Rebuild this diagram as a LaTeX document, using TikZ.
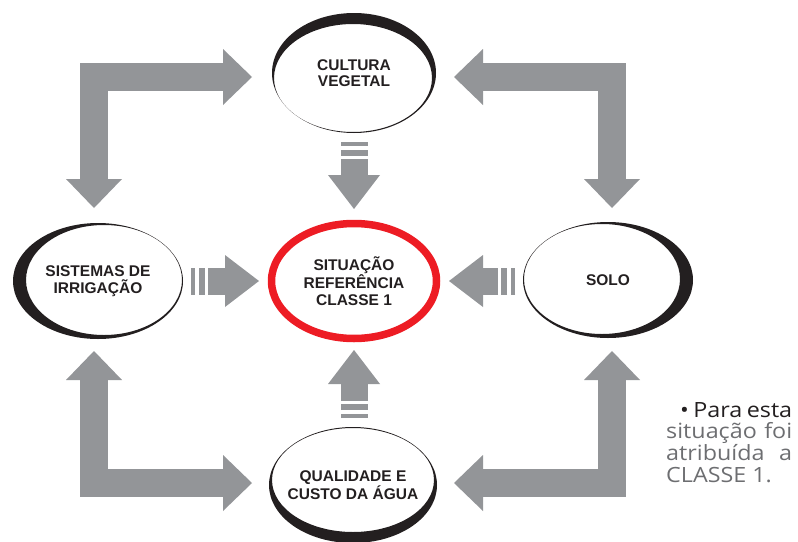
\documentclass[tikz,border=0pt]{standalone}
\usepackage{fontspec}
\usepackage{tikz}
\usetikzlibrary{arrows.meta, calc}
\newfontfamily\rotulofont{Liberation Sans}
\newfontfamily\notafont[FakeStretch=1.11]{Open Sans}
\definecolor{cinzaseta}{RGB}{147,149,152}
\definecolor{cinzatexto}{RGB}{109,110,113}
\definecolor{vermelho}{RGB}{237,28,36}
\definecolor{preto}{RGB}{35,31,32}
\tikzstyle{fator} = [inner sep=0pt, align=center, text=preto, font=\rotulofont\bfseries\fontsize{15.5}{16.5}\selectfont]
\tikzstyle{nota} = [inner sep=0pt, align=left, text=preto, font=\notafont\fontsize{21}{21.8}\selectfont]
\tikzstyle{crescente} = [fill=preto, even odd rule]
\tikzstyle{seta} = [draw=cinzaseta, line width=28pt, {Triangle[length=29pt, width=56pt, line width=0pt]}-{Triangle[length=29pt, width=56pt, line width=0pt]}]
\tikzstyle{faixa} = [draw=cinzaseta, line width=27pt]
\newcommand{\setalistrada}[2]{%
  \draw[faixa] (#1) -- ($(#1)!4pt!(#2)$);
  \draw[faixa] ($(#1)!8pt!(#2)$) -- ($(#1)!14pt!(#2)$);
  \draw[faixa, -{Triangle[length=34pt, width=52pt, line width=0pt]}] ($(#1)!17pt!(#2)$) -- (#2);
}

\begin{document}
\begin{tikzpicture}[x=1pt, y=-1pt]
	\useasboundingbox (0,0) rectangle (798,541);
	\node[fator] (cultura) at (354,73) {CULTURA\\VEGETAL};
	\node[fator] (sistemas) at (98,281) {SISTEMAS DE\\IRRIGAÇÃO};
	\node[fator] (situacao) at (354,281) {SITUAÇÃO\\REFERÊNCIA\\CLASSE 1};
	\node[fator] (solo) at (608,280) {SOLO};
	\node[fator] (qualidade) at (353,485) {QUALIDADE E\\CUSTO DA ÁGUA};
	\node[nota, anchor=north west] (nota) at (666,402) {\hspace*{14pt}\makebox[112pt][s]{• Para esta}\\
		{\color{cinzatexto}\makebox[126pt][s]{situação foi}}\\
		{\color{cinzatexto}\makebox[126pt][s]{atribuída a}}\\
		{\color{cinzatexto}CLASSE 1.}};
	\fill[crescente] (cultura) ellipse [x radius=82, y radius=60] ($(cultura)+(-1,5)$) ellipse [x radius=79, y radius=54];
	\fill[crescente] (sistemas) ellipse [x radius=85, y radius=58] ($(sistemas)+(6,-1)$) ellipse [x radius=78, y radius=55];
	\fill[crescente] (solo) ellipse [x radius=85, y radius=58] ($(solo)+(-6,-1)$) ellipse [x radius=78, y radius=55];
	\fill[crescente] (qualidade) ellipse [x radius=84, y radius=58] ($(qualidade)+(0,-5)$) ellipse [x radius=81, y radius=52];
	\draw[vermelho, line width=7.5pt] (situacao) ellipse [x radius=82.5, y radius=57.5];
	\draw[seta] ($(cultura)+(-102,4)$) -| ($(sistemas)+(-4,-73)$);
	\draw[seta] ($(cultura)+(100,4)$) -| ($(solo)+(4,-72)$);
	\draw[seta] ($(sistemas)+(-4,70)$) |- ($(qualidade)+(-101,-2)$);
	\draw[seta] ($(solo)+(4,71)$) |- ($(qualidade)+(101,-2)$);
	\coordinate (cimaA) at ($(cultura)+(0,69)$);
	\coordinate (cimaB) at ($(situacao)+(0,-72)$);
	\coordinate (baixoA) at ($(qualidade)+(1,-67)$);
	\coordinate (baixoB) at ($(situacao)+(0,69)$);
	\coordinate (esqA) at ($(sistemas)+(93,0)$);
	\coordinate (esqB) at ($(situacao)+(-95,0)$);
	\coordinate (dirA) at ($(solo)+(-93,1)$);
	\coordinate (dirB) at ($(situacao)+(95,0)$);
	\setalistrada{cimaA}{cimaB}
	\setalistrada{baixoA}{baixoB}
	\setalistrada{esqA}{esqB}
	\setalistrada{dirA}{dirB}
\end{tikzpicture}
\end{document}
